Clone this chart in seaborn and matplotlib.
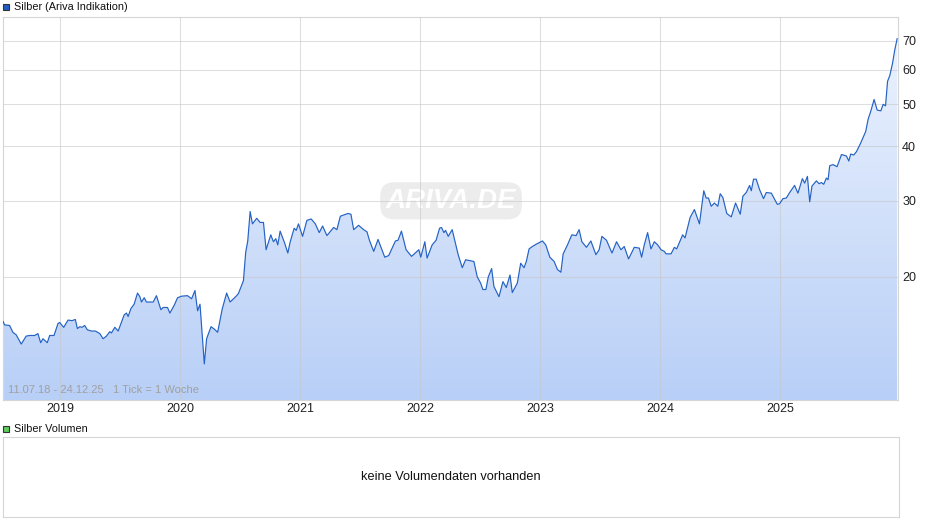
import numpy as np
import pandas as pd
import matplotlib
matplotlib.use('Agg')
import matplotlib.pyplot as plt
import seaborn as sns
from matplotlib.colors import LinearSegmentedColormap
from matplotlib.patches import Rectangle
from matplotlib.ticker import NullLocator

# Silberkurs (USD), woechentlich, Zeitachse in Dezimaljahren
jahre = [
    2018.525, 2018.538, 2018.580, 2018.607, 2018.635, 2018.677, 2018.718, 2018.747, 2018.789, 2018.816,
    2018.839, 2018.858, 2018.894, 2018.914, 2018.950, 2018.983, 2018.997, 2019.031, 2019.067, 2019.100,
    2019.128, 2019.145, 2019.165, 2019.184, 2019.206, 2019.228, 2019.261, 2019.295, 2019.332, 2019.359,
    2019.387, 2019.415, 2019.429, 2019.457, 2019.485, 2019.535, 2019.554, 2019.568, 2019.591, 2019.618,
    2019.646, 2019.666, 2019.679, 2019.702, 2019.721, 2019.777, 2019.804, 2019.841, 2019.860, 2019.896,
    2019.916, 2019.952, 2019.980, 2020.013, 2020.063, 2020.097, 2020.125, 2020.147, 2020.167, 2020.203,
    2020.222, 2020.259, 2020.287, 2020.314, 2020.353, 2020.389, 2020.418, 2020.464, 2020.487, 2020.529,
    2020.548, 2020.565, 2020.585, 2020.604, 2020.640, 2020.668, 2020.696, 2020.718, 2020.757, 2020.779,
    2020.799, 2020.815, 2020.835, 2020.871, 2020.899, 2020.919, 2020.952, 2020.969, 2020.988, 2021.022,
    2021.058, 2021.094, 2021.128, 2021.161, 2021.189, 2021.225, 2021.281, 2021.308, 2021.337, 2021.400,
    2021.425, 2021.448, 2021.489, 2021.531, 2021.559, 2021.579, 2021.615, 2021.651, 2021.707, 2021.740,
    2021.796, 2021.818, 2021.846, 2021.885, 2021.930, 2021.991, 2022.007, 2022.041, 2022.060, 2022.102,
    2022.135, 2022.164, 2022.180, 2022.200, 2022.214, 2022.236, 2022.269, 2022.319, 2022.353, 2022.381,
    2022.450, 2022.478, 2022.506, 2022.525, 2022.550, 2022.570, 2022.598, 2022.617, 2022.659, 2022.692,
    2022.720, 2022.751, 2022.770, 2022.812, 2022.840, 2022.868, 2022.887, 2022.910, 2022.937, 2022.971,
    2023.021, 2023.049, 2023.083, 2023.119, 2023.146, 2023.175, 2023.194, 2023.230, 2023.266, 2023.302,
    2023.327, 2023.350, 2023.388, 2023.425, 2023.467, 2023.494, 2023.517, 2023.555, 2023.601, 2023.639,
    2023.676, 2023.703, 2023.739, 2023.787, 2023.829, 2023.848, 2023.870, 2023.898, 2023.926, 2023.954,
    2023.982, 2024.010, 2024.037, 2024.052, 2024.093, 2024.121, 2024.140, 2024.190, 2024.210, 2024.252,
    2024.288, 2024.330, 2024.366, 2024.386, 2024.405, 2024.428, 2024.455, 2024.483, 2024.503, 2024.525,
    2024.558, 2024.595, 2024.631, 2024.670, 2024.692, 2024.720, 2024.748, 2024.762, 2024.781, 2024.803,
    2024.831, 2024.864, 2024.887, 2024.929, 2024.956, 2024.979, 2024.998, 2025.026, 2025.054, 2025.082,
    2025.123, 2025.151, 2025.188, 2025.207, 2025.230, 2025.249, 2025.268, 2025.305, 2025.327, 2025.347,
    2025.366, 2025.388, 2025.402, 2025.416, 2025.443, 2025.477, 2025.514, 2025.555, 2025.575, 2025.591,
    2025.616, 2025.639, 2025.672, 2025.708, 2025.716, 2025.736, 2025.756, 2025.786, 2025.811, 2025.842,
    2025.861, 2025.881, 2025.898, 2025.917, 2025.939, 2025.958, 2025.978,
]
kurs = [
    15.8, 15.5, 15.45, 14.9, 14.7, 14.0, 14.6, 14.65, 14.65, 14.8,
    14.1, 14.4, 14.1, 14.65, 14.65, 15.6, 15.7, 15.3, 15.9, 15.85,
    15.95, 15.2, 15.35, 15.3, 15.45, 15.1, 15.0, 15.0, 14.8, 14.4,
    14.6, 14.95, 14.85, 15.3, 15.0, 16.35, 16.5, 16.2, 16.9, 17.3,
    18.35, 18.0, 17.5, 17.9, 17.5, 17.5, 18.1, 16.8, 17.0, 17.0,
    16.5, 17.2, 17.9, 18.05, 18.1, 17.8, 18.6, 16.7, 17.3, 12.6,
    14.4, 15.35, 15.15, 14.9, 16.9, 18.35, 17.5, 18.0, 18.3, 19.6,
    22.8, 24.2, 28.3, 26.5, 27.3, 26.7, 26.7, 23.1, 25.0, 24.1,
    24.5, 23.7, 25.5, 24.0, 22.7, 24.1, 25.9, 25.6, 26.5, 24.8,
    27.0, 27.2, 26.5, 25.3, 26.2, 24.9, 26.0, 25.7, 27.6, 28.0,
    27.9, 25.7, 26.3, 25.7, 25.4, 24.3, 22.9, 24.4, 22.2, 22.4,
    24.2, 24.3, 25.5, 23.1, 22.3, 23.1, 22.2, 24.1, 22.1, 23.7,
    24.3, 25.9, 26.0, 25.3, 25.6, 24.8, 25.7, 22.5, 21.0, 21.9,
    21.7, 20.0, 19.35, 18.7, 18.7, 20.0, 20.9, 19.0, 18.0, 19.5,
    18.9, 20.2, 18.4, 19.35, 21.5, 21.0, 21.7, 23.2, 23.5, 23.8,
    24.2, 23.7, 22.2, 21.7, 20.8, 20.5, 22.6, 23.7, 25.0, 24.9,
    25.7, 24.1, 23.4, 24.2, 22.5, 23.1, 24.8, 24.3, 22.7, 24.1,
    23.1, 23.5, 22.0, 23.4, 23.3, 22.2, 23.7, 25.3, 23.2, 24.1,
    23.7, 23.1, 22.9, 22.6, 22.6, 23.4, 23.2, 25.0, 24.6, 27.4,
    28.6, 26.5, 31.6, 30.4, 30.4, 29.1, 29.6, 29.1, 31.1, 30.5,
    28.0, 27.5, 29.6, 27.9, 30.7, 31.3, 32.5, 31.6, 33.6, 33.6,
    31.8, 30.3, 31.3, 31.2, 30.2, 29.4, 29.5, 30.3, 30.4, 31.3,
    32.5, 31.2, 33.7, 32.9, 34.1, 29.8, 32.4, 33.3, 32.8, 33.0,
    32.7, 33.8, 33.5, 36.1, 36.3, 35.9, 38.3, 38.0, 37.0, 38.4,
    38.2, 38.9, 40.6, 42.8, 43.3, 46.2, 48.0, 51.3, 48.5, 48.3,
    50.0, 49.6, 56.5, 58.3, 62.1, 66.7, 70.9,
]
jahr_ticks = [2019, 2020, 2021, 2022, 2023, 2024, 2025]
kurs_ticks = [20, 30, 40, 50, 60, 70]

df = pd.DataFrame({'jahr': jahre, 'kurs': kurs})

sns.set_style('white')
plt.rcParams['font.family'] = ['Liberation Sans', 'DejaVu Sans']

W, H = 940, 526
fig = plt.figure(figsize=(W / 100, H / 100), dpi=100)

# Hauptchart
ax = fig.add_axes([3 / W, 1 - 400 / H, (898 - 3) / W, (400 - 17) / H])
ax.set_yscale('log')
ax.set_xlim(2018.525, 2025.985)
ax.set_ylim(10.4, 79.5)

# Verlaufsfuellung unter der Kurve
poly = ax.fill_between(df['jahr'], df['kurs'], 1, facecolor='none', edgecolor='none')
cmap = LinearSegmentedColormap.from_list('ariva', ['#b8cff7', '#eef4fe'])
grad = np.linspace(0, 1, 256).reshape(-1, 1)
im = ax.imshow(grad, cmap=cmap, origin='lower', extent=[0, 1, 0, 1],
               transform=ax.transAxes, aspect='auto', zorder=1)
im.set_clip_path(poly.get_paths()[0], ax.transData)

sns.lineplot(data=df, x='jahr', y='kurs', ax=ax, color='#2462c4', lw=0.85, zorder=4)

ax.set_xlim(2018.525, 2025.985)
ax.set_ylim(10.4, 79.5)
ax.set_axisbelow(False)
ax.grid(True, color='#c8c8c8', alpha=0.6, lw=0.75)
ax.set_xticks(jahr_ticks)
ax.set_xticklabels([str(j) for j in jahr_ticks])
ax.yaxis.tick_right()
ax.set_yticks(kurs_ticks)
ax.set_yticklabels([str(k) for k in kurs_ticks])
ax.yaxis.set_minor_locator(NullLocator())
ax.tick_params(axis='both', length=0, labelsize=9, colors='#222222')
ax.tick_params(axis='x', pad=2)
ax.tick_params(axis='y', pad=3)
ax.set_xlabel('')
ax.set_ylabel('')
for sp in ax.spines.values():
    sp.set_color('#d6d6d6')
    sp.set_linewidth(0.8)

ax.text(0.5006, 0.52, 'ARIVA.DE', transform=ax.transAxes, ha='center', va='center',
        fontsize=20, fontstyle='italic', fontweight='bold', color='white', zorder=2,
        bbox=dict(boxstyle='round,pad=0.2,rounding_size=0.5', facecolor='#ececec', edgecolor='none'))
ax.text(5 / 895, 0.012, '11.07.18 - 24.12.25   1 Tick = 1 Woche', transform=ax.transAxes,
        ha='left', va='bottom', fontsize=8, color='#a0a0a0', zorder=5)

# Legenden-Kopfzeilen
fig.patches.append(Rectangle((3 / W, 1 - 10 / H), 6 / W, 6 / H, transform=fig.transFigure,
                             facecolor='#1f5bc4', edgecolor='#333333', lw=0.8))
fig.text(14 / W, 1 - 6.5 / H, 'Silber (Ariva Indikation)', ha='left', va='center', fontsize=7.8, color='#111111')
fig.patches.append(Rectangle((3 / W, 1 - 432 / H), 6 / W, 6 / H, transform=fig.transFigure,
                             facecolor='#5ccc5c', edgecolor='#333333', lw=0.8))
fig.text(14 / W, 1 - 428.5 / H, 'Silber Volumen', ha='left', va='center', fontsize=7.8, color='#111111')

# Volumen-Panel
ax2 = fig.add_axes([3 / W, 1 - 517 / H, (899 - 3) / W, (517 - 437) / H])
ax2.set_xticks([])
ax2.set_yticks([])
for sp in ax2.spines.values():
    sp.set_color('#d6d6d6')
    sp.set_linewidth(0.8)
ax2.text(0.5, 0.5, 'keine Volumendaten vorhanden', transform=ax2.transAxes,
         ha='center', va='center', fontsize=9.2, color='#111111')

fig.savefig('out.png', dpi=100)
